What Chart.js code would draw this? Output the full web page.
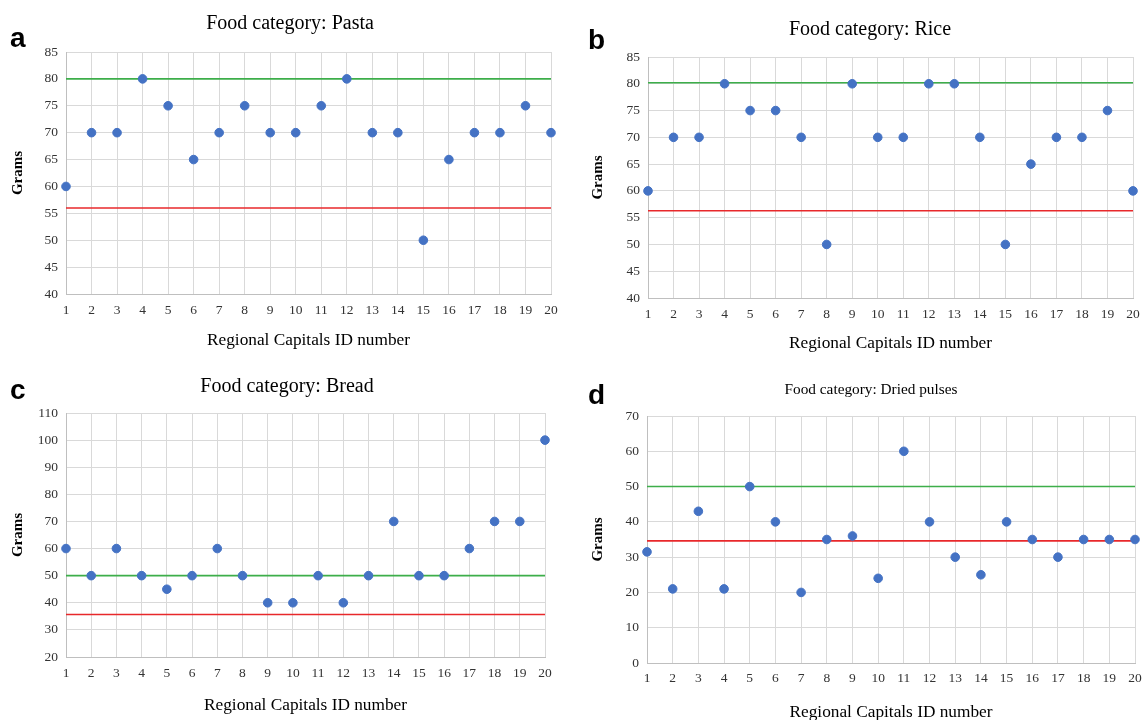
<!DOCTYPE html>
<html>
<head>
<meta charset="utf-8">
<script src="https://cdn.jsdelivr.net/npm/chart.js@4.4.1/dist/chart.umd.min.js"></script>
<style>
  body { margin: 0; background: #fff; width: 1143px; height: 720px; overflow: hidden; position: relative; }
  canvas { position: absolute; }
  .letter { position: absolute; font: bold 28px "Liberation Sans", Arial, sans-serif; color: #000; line-height: 1; }
  .title { position: absolute; transform: translate(-50%, -50%); white-space: nowrap; line-height: 1;
           font-family: "Liberation Serif", "Times New Roman", serif; color: #000; }
</style>
</head>
<body>
<canvas id="chartA" style="left:0;top:0" width="575" height="360"></canvas>
<canvas id="chartB" style="left:580px;top:0" width="573" height="360"></canvas>
<canvas id="chartC" style="left:0;top:365px" width="575" height="355"></canvas>
<canvas id="chartD" style="left:580px;top:365px" width="573" height="360"></canvas>

<div class="letter" style="left:10px;top:24px">a</div>
<div class="letter" style="left:588px;top:26px">b</div>
<div class="letter" style="left:10px;top:376px">c</div>
<div class="letter" style="left:588px;top:381px">d</div>

<div class="title" style="left:290px;top:22px;font-size:20px">Food category: Pasta</div>
<div class="title" style="left:870px;top:28px;font-size:20px">Food category: Rice</div>
<div class="title" style="left:287px;top:385px;font-size:20px">Food category: Bread</div>
<div class="title" style="left:871px;top:389px;font-size:15.3px">Food category: Dried pulses</div>

<script>
// regional capitals 1..20
const capitalIds = [1, 2, 3, 4, 5, 6, 7, 8, 9, 10, 11, 12, 13, 14, 15, 16, 17, 18, 19, 20];

// grams per portion
const pastaGrams  = [60, 70, 70, 80, 75, 65, 70, 75, 70, 70, 75, 80, 70, 70, 50, 65, 70, 70, 75, 70];
const riceGrams   = [60, 70, 70, 80, 75, 75, 70, 50, 80, 70, 70, 80, 80, 70, 50, 65, 70, 70, 75, 60];
const breadGrams  = [60, 50, 60, 50, 45, 50, 60, 50, 40, 40, 50, 40, 50, 70, 50, 50, 60, 70, 70, 100];
const pulsesGrams = [31.5, 21, 43, 21, 50, 40, 20, 35, 36, 24, 60, 40, 30, 25, 40, 35, 30, 35, 35, 35];

// reference levels: [upper (green), lower (red)]
const pastaRef  = [80, 56];
const riceRef   = [80.2, 56.3];
const breadRef  = [50, 35.7];
const pulsesRef = [50, 34.6];

// y axis ranges: [min, max, step]
const pastaAxis  = [40, 85, 5];
const riceAxis   = [40, 85, 5];
const breadAxis  = [20, 110, 10];
const pulsesAxis = [0, 70, 10];

const SERIF = '"Liberation Serif", "Times New Roman", serif';

function refLine(value, color) {
  return {
    type: 'line',
    data: [{ x: capitalIds[0], y: value }, { x: capitalIds[capitalIds.length - 1], y: value }],
    borderColor: color,
    borderWidth: 1.6,
    pointRadius: 0,
    fill: false,
    order: 2
  };
}

function makeChart(id, values, ref, axis, lay) {
  const canvas = document.getElementById(id);
  const H = canvas.height, W = canvas.width;

  new Chart(canvas.getContext('2d'), {
    type: 'scatter',
    data: {
      datasets: [
        {
          data: capitalIds.map((c, i) => ({ x: c, y: values[i] })),
          backgroundColor: '#4472C4',
          borderColor: '#4472C4',
          pointRadius: 4.3,
          clip: false,
          order: 0
        },
        refLine(ref[0], '#3DAE4A'),
        refLine(ref[1], '#E8282B')
      ]
    },
    options: {
      responsive: false,
      animation: false,
      layout: { padding: { left: 0, right: W - lay.plotRight, top: lay.plotTop, bottom: 0 } },
      plugins: {
        legend: { display: false },
        tooltip: { enabled: false },
        title: { display: false }
      },
      scales: {
        x: {
          type: 'linear',
          min: capitalIds[0],
          max: capitalIds[capitalIds.length - 1],
          ticks: { stepSize: 1, color: '#333', font: { family: SERIF, size: 13.5 }, padding: lay.tickY - 8 - lay.plotBottom, maxRotation: 0, autoSkip: false },
          grid: { color: '#D9D9D9', drawTicks: false },
          border: { color: '#BFBFBF' },
          title: {
            display: true,
            text: 'Regional Capitals ID number',
            color: '#000',
            font: { family: SERIF, size: 17.3 },
            padding: { top: 0, bottom: Math.max(0, H - lay.xTitleY - 10.4) }
          },
          afterFit: function (scale) { scale.height = H - lay.plotBottom; }
        },
        y: {
          min: axis[0],
          max: axis[1],
          ticks: { stepSize: axis[2], color: '#333', font: { family: SERIF, size: 13.5 }, padding: 8 },
          grid: { color: '#D9D9D9', drawTicks: false },
          border: { color: '#BFBFBF' },
          title: {
            display: true,
            text: 'Grams',
            color: '#000',
            font: { family: SERIF, size: 15, weight: 'bold' },
            padding: { top: lay.gramsX - 9, bottom: 0 }
          },
          afterFit: function (scale) { scale.width = lay.plotLeft; }
        }
      }
    }
  });
}

makeChart('chartA', pastaGrams, pastaRef, pastaAxis,
  { plotLeft: 66, plotRight: 551, plotTop: 52, plotBottom: 294, xTitleY: 340, tickY: 310, gramsX: 18 });
makeChart('chartB', riceGrams, riceRef, riceAxis,
  { plotLeft: 68, plotRight: 553, plotTop: 57, plotBottom: 298, xTitleY: 343, tickY: 314, gramsX: 18 });
makeChart('chartC', breadGrams, breadRef, breadAxis,
  { plotLeft: 66, plotRight: 545, plotTop: 48, plotBottom: 292, xTitleY: 340, tickY: 308, gramsX: 18 });
makeChart('chartD', pulsesGrams, pulsesRef, pulsesAxis,
  { plotLeft: 67, plotRight: 555, plotTop: 51, plotBottom: 298, xTitleY: 347, tickY: 313, gramsX: 18 });
</script>
</body>
</html>
